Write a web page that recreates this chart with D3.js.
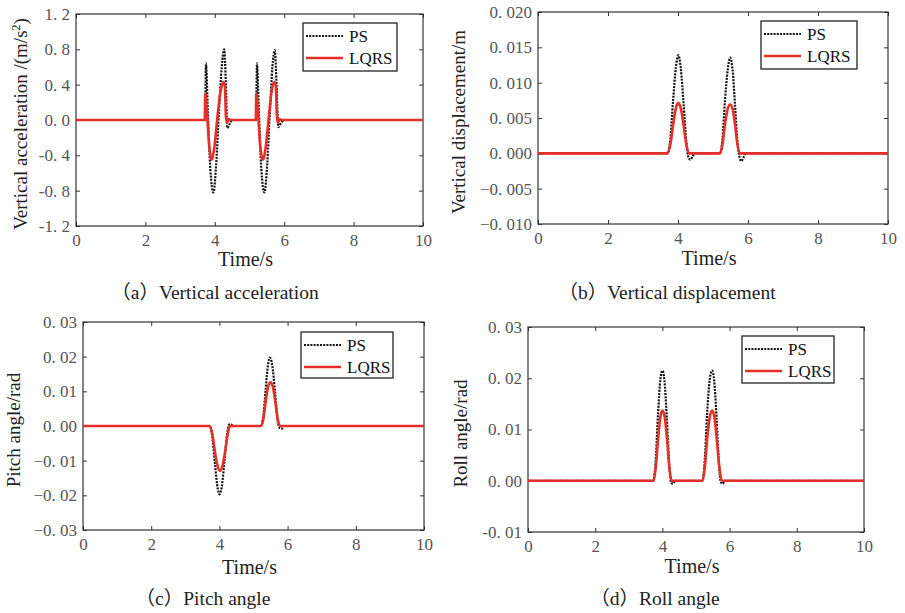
<!DOCTYPE html>
<html>
<head>
<meta charset="utf-8">
<script src="https://cdn.jsdelivr.net/npm/d3@7"></script>
<style>
body { margin: 0; background: #fff; }
svg text { font-family: "Liberation Serif", "Noto Sans CJK SC", serif; }
</style>
</head>
<body>
<div id="wrapper"></div>
<script>
// shared x axis
const xTicks = [0, 2, 4, 6, 8, 10];
const xTickLabels = ['0', '2', '4', '6', '8', '10'];
const seriesNames = ['PS', 'LQRS'];

// (a) vertical acceleration
const accTicks = [-1.2, -0.8, -0.4, 0, 0.4, 0.8, 1.2];
const accTickLabels = ['-1. 2', '-0. 8', '-0. 4', '0. 0', '0. 4', '0. 8', '1. 2'];
const accTimePS = [0, 3.72, 3.745, 3.80, 3.87, 3.96, 4.04, 4.12, 4.20, 4.27, 4.32, 4.36, 4.42, 4.50,
	5.19, 5.215, 5.27, 5.34, 5.43, 5.51, 5.59, 5.66, 5.73, 5.78, 5.83, 5.90, 6.00, 10];
const accPS = [0, 0, 0.64, 0.10, -0.55, -0.82, -0.50, 0.10, 0.60, 0.80, 0.40, -0.09, -0.05, 0,
	0, 0.64, 0.10, -0.55, -0.82, -0.50, 0.10, 0.60, 0.79, 0.40, -0.08, -0.04, 0, 0];
const accTimeLQRS = [0, 3.71, 3.725, 3.78, 3.84, 3.91, 3.99, 4.08, 4.17, 4.24, 4.29, 4.32, 4.35, 4.40, 4.46,
	5.18, 5.195, 5.25, 5.31, 5.39, 5.47, 5.56, 5.64, 5.71, 5.76, 5.79, 5.82, 5.87, 5.93, 10];
const accLQRS = [0, 0, 0.30, 0.05, -0.30, -0.45, -0.30, 0.05, 0.33, 0.43, 0.38, 0.05, -0.03, 0.01, 0,
	0, 0.30, 0.05, -0.30, -0.45, -0.30, 0.05, 0.33, 0.43, 0.38, 0.05, -0.03, 0.01, 0, 0];

// (b) vertical displacement
const dispTicks = [-0.010, -0.005, 0, 0.005, 0.010, 0.015, 0.020];
const dispTickLabels = ['\u22120. 010', '\u22120. 005', '0. 000', '0. 005', '0. 010', '0. 015', '0. 020'];
const dispTimePS = [0, 3.70, 3.78, 3.86, 3.94, 4.01, 4.08, 4.16, 4.24, 4.30, 4.35, 4.42, 4.48,
	5.20, 5.27, 5.34, 5.42, 5.49, 5.56, 5.63, 5.70, 5.76, 5.81, 5.88, 5.94, 10];
const dispPS = [0, 0, 0.0020, 0.0075, 0.0122, 0.0139, 0.0120, 0.0070, 0.0015, -0.0006, -0.0009, -0.0004, 0,
	0, 0.0020, 0.0073, 0.0118, 0.01355, 0.0118, 0.0068, 0.0015, -0.0006, -0.0011, -0.0005, 0, 0];
const dispTimeLQRS = [0, 3.70, 3.78, 3.86, 3.94, 4.01, 4.08, 4.16, 4.24, 4.32,
	5.20, 5.27, 5.34, 5.42, 5.49, 5.56, 5.63, 5.70, 5.77, 10];
const dispLQRS = [0, 0, 0.0012, 0.0040, 0.0064, 0.0071, 0.0064, 0.0040, 0.0012, 0,
	0, 0.0012, 0.0040, 0.0063, 0.0069, 0.0063, 0.0040, 0.0012, 0, 0];

// (c) pitch angle
const pitchTicks = [-0.03, -0.02, -0.01, 0, 0.01, 0.02, 0.03];
const pitchTickLabels = ['\u22120. 03', '\u22120. 02', '\u22120. 01', '0. 00', '0. 01', '0. 02', '0. 03'];
const pitchTimePS = [0, 3.72, 3.79, 3.87, 3.95, 4.00, 4.07, 4.15, 4.23, 4.29, 4.34, 4.40,
	5.22, 5.29, 5.36, 5.43, 5.48, 5.55, 5.63, 5.71, 5.77, 5.83, 5.90, 10];
const pitchPS = [0, 0, -0.003, -0.011, -0.018, -0.0197, -0.0175, -0.010, -0.002, 0.0004, 0.0005, 0,
	0, 0.003, 0.011, 0.018, 0.0197, 0.0175, 0.010, 0.0015, -0.0006, -0.0008, 0, 0];
const pitchTimeLQRS = [0, 3.72, 3.79, 3.87, 3.95, 4.02, 4.09, 4.17, 4.25, 4.31,
	5.22, 5.29, 5.36, 5.43, 5.50, 5.57, 5.64, 5.71, 5.78, 10];
const pitchLQRS = [0, 0, -0.0022, -0.0075, -0.0117, -0.0129, -0.0115, -0.0072, -0.0020, 0,
	0, 0.0021, 0.0072, 0.0114, 0.0126, 0.0112, 0.0070, 0.0020, 0, 0];

// (d) roll angle
const rollTicks = [-0.01, 0, 0.01, 0.02, 0.03];
const rollTickLabels = ['-0. 01', '0. 00', '0. 01', '0. 02', '0. 03'];
const rollTimePS = [0, 3.73, 3.80, 3.87, 3.94, 4.00, 4.06, 4.13, 4.20, 4.26, 4.31, 4.38,
	5.19, 5.26, 5.33, 5.41, 5.48, 5.54, 5.61, 5.68, 5.74, 5.79, 5.86, 10];
const rollPS = [0, 0, 0.004, 0.013, 0.0198, 0.0215, 0.0196, 0.0125, 0.0035, -0.0003, -0.0006, 0,
	0, 0.004, 0.013, 0.0198, 0.0215, 0.0196, 0.0125, 0.0035, -0.0003, -0.0006, 0, 0];
const rollTimeLQRS = [0, 3.73, 3.80, 3.87, 3.94, 4.00, 4.07, 4.14, 4.21, 4.28,
	5.19, 5.26, 5.33, 5.41, 5.48, 5.55, 5.62, 5.70, 5.77, 10];
const rollLQRS = [0, 0, 0.0024, 0.0080, 0.0125, 0.0137, 0.0124, 0.0080, 0.0024, 0,
	0, 0.0024, 0.0080, 0.0125, 0.0137, 0.0124, 0.0080, 0.0024, 0, 0];

const panels = [
	{
		box: { left: 76, right: 423, top: 14, bottom: 226 },
		yTicks: accTicks, yTickLabels: accTickLabels,
		ps: d3.zip(accTimePS, accPS), lqrs: d3.zip(accTimeLQRS, accLQRS),
		yLabel: 'acc', yLabelX: 20,
		legend: { x: 303, y: 23, w: 94, h: 48 },
		caption: '（a）Vertical acceleration', captionX: 215, captionY: 299,
		timeDy: 40
	},
	{
		box: { left: 538, right: 888, top: 12, bottom: 224 },
		yTicks: dispTicks, yTickLabels: dispTickLabels,
		ps: d3.zip(dispTimePS, dispPS), lqrs: d3.zip(dispTimeLQRS, dispLQRS),
		yLabel: 'Vertical displacement/m', yLabelX: 458,
		legend: { x: 761, y: 21, w: 96, h: 48 },
		caption: '（b）Vertical displacement', captionX: 667, captionY: 299,
		timeDy: 41
	},
	{
		box: { left: 83, right: 424, top: 322, bottom: 530 },
		yTicks: pitchTicks, yTickLabels: pitchTickLabels,
		ps: d3.zip(pitchTimePS, pitchPS), lqrs: d3.zip(pitchTimeLQRS, pitchLQRS),
		yLabel: 'Pitch angle/rad', yLabelX: 13,
		legend: { x: 301, y: 332, w: 92, h: 46 },
		caption: '（c）Pitch angle', captionX: 203, captionY: 605,
		timeDy: 44
	},
	{
		box: { left: 528, right: 864, top: 327, bottom: 532 },
		yTicks: rollTicks, yTickLabels: rollTickLabels,
		ps: d3.zip(rollTimePS, rollPS), lqrs: d3.zip(rollTimeLQRS, rollLQRS),
		yLabel: 'Roll angle/rad', yLabelX: 460,
		legend: { x: 742, y: 336, w: 92, h: 47 },
		caption: '（d）Roll angle', captionX: 655, captionY: 605,
		timeDy: 41
	}
];

const red = '#e5302a';

const svg = d3.select('#wrapper').append('svg').attr('width', 905).attr('height', 613);

function drawPanel(p) {
	const b = p.box;
	const x = d3.scaleLinear().domain([0, 10]).range([b.left, b.right]);
	const y = d3.scaleLinear().domain(d3.extent(p.yTicks)).range([b.bottom, b.top]);
	const g = svg.append('g');

	const styleAxis = (a) => {
		a.select('.domain').remove();
		a.selectAll('line').attr('stroke', '#333');
		a.selectAll('text').attr('fill', '#555').style('font-size', '17px');
	};

	// inward ticks on all four sides
	g.append('g').attr('transform', `translate(0,${b.bottom})`)
		.call(d3.axisBottom(x).tickValues(xTicks).tickFormat((d, i) => xTickLabels[i]).tickSizeInner(-4).tickSizeOuter(0).tickPadding(8))
		.call(styleAxis);
	g.append('g').attr('transform', `translate(0,${b.top})`)
		.call(d3.axisTop(x).tickValues(xTicks).tickFormat('').tickSizeInner(-4).tickSizeOuter(0))
		.call(styleAxis);
	g.append('g').attr('transform', `translate(${b.left},0)`)
		.call(d3.axisLeft(y).tickValues(p.yTicks).tickFormat((d, i) => p.yTickLabels[i]).tickSizeInner(-4).tickSizeOuter(0).tickPadding(6))
		.call(styleAxis);
	g.append('g').attr('transform', `translate(${b.right},0)`)
		.call(d3.axisRight(y).tickValues(p.yTicks).tickFormat('').tickSizeInner(-4).tickSizeOuter(0))
		.call(styleAxis);

	g.append('rect')
		.attr('x', b.left).attr('y', b.top)
		.attr('width', b.right - b.left).attr('height', b.bottom - b.top)
		.attr('fill', 'none').attr('stroke', '#333').attr('stroke-width', 1.2);

	const line = d3.line().x((d) => x(d[0])).y((d) => y(d[1])).curve(d3.curveMonotoneX);

	g.append('path').datum(p.ps)
		.attr('d', line).attr('fill', 'none')
		.attr('stroke', '#111').attr('stroke-width', 2.2).attr('stroke-dasharray', '2,1.2');
	g.append('path').datum(p.lqrs)
		.attr('d', line).attr('fill', 'none')
		.attr('stroke', red).attr('stroke-width', 2.6);

	// legend
	const L = p.legend;
	const lg = g.append('g').attr('transform', `translate(${L.x},${L.y})`);
	lg.append('rect').attr('width', L.w).attr('height', L.h)
		.attr('fill', '#fff').attr('stroke', '#333').attr('stroke-width', 1.4);
	seriesNames.forEach((name, i) => {
		const ly = 13 + i * 22;
		lg.append('line').attr('x1', 3).attr('x2', 40).attr('y1', ly).attr('y2', ly)
			.attr('stroke', i === 0 ? '#111' : red)
			.attr('stroke-width', i === 0 ? 2.2 : 2.6)
			.attr('stroke-dasharray', i === 0 ? '2,1.2' : null);
		lg.append('text').attr('x', 46).attr('y', ly + 6).style('font-size', '17px').attr('fill', '#111').text(name);
	});

	// axis titles
	g.append('text')
		.attr('x', (b.left + b.right) / 2 - 4).attr('y', b.bottom + p.timeDy)
		.attr('text-anchor', 'middle').style('font-size', '20px').attr('fill', '#222')
		.text('Time/s');

	const yl = g.append('text')
		.attr('transform', `translate(${p.yLabelX},${(b.top + b.bottom) / 2 + 4}) rotate(-90)`)
		.attr('text-anchor', 'middle').attr('dy', '0.35em')
		.style('font-size', '19px').attr('fill', '#222');
	if (p.yLabel === 'acc') {
		yl.append('tspan').text('Vertical acceleration /(m/s');
		yl.append('tspan').attr('baseline-shift', 'super').style('font-size', '12px').text('2');
		yl.append('tspan').text(')');
	} else {
		yl.text(p.yLabel);
	}

	g.append('text')
		.attr('x', p.captionX).attr('y', p.captionY)
		.attr('text-anchor', 'middle').style('font-size', '19.5px').attr('fill', '#222')
		.text(p.caption);
}

panels.forEach(drawPanel);
</script>
</body>
</html>
